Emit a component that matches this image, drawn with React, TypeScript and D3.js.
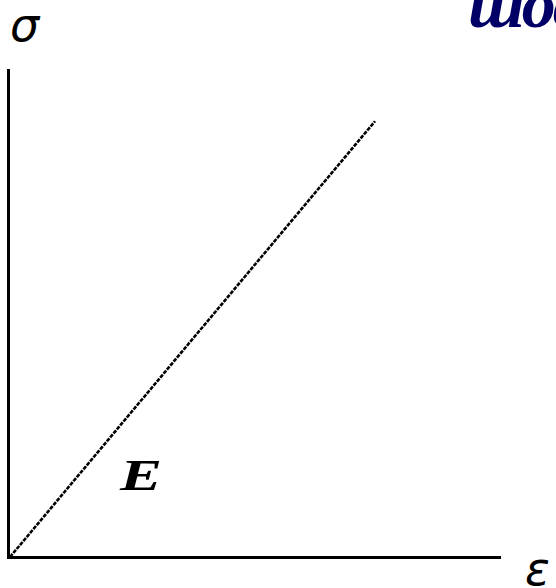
import React from "react";
import * as d3 from "d3";

// Linear elastic region: stress grows in proportion to strain (slope E)
const strain = [0, 74.5];
const stress = [0, 89.3];

const axisLabels = { y: "σ", x: "ε", slope: "E" };
const heading = "шос";

const W = 556;
const H = 588;

export default function App() {
  const x = d3.scaleLinear().domain([0, 100]).range([10, 500]);
  const y = d3.scaleLinear().domain([0, 100]).range([557, 69]);

  const pts = strain.map((s, i) => [s, stress[i]] as [number, number]);
  const path = d3
    .line<[number, number]>()
    .x((d) => x(d[0]))
    .y((d) => y(d[1]))(pts);

  return (
    <svg
      width={W}
      height={H}
      style={{ position: "absolute", left: 0, top: 0, background: "#fff" }}
    >
      {/* axes */}
      <line x1={8.5} x2={8.5} y1={y(100)} y2={559} stroke="#000" strokeWidth={3} shapeRendering="crispEdges" />
      <line x1={7} x2={x(100) + 1} y1={557.5} y2={557.5} stroke="#000" strokeWidth={3} shapeRendering="crispEdges" />

      {/* stress-strain line */}
      <path d={path ?? ""} fill="none" stroke="#000" strokeWidth={2.6} strokeDasharray="4 1.2" />

      {/* labels */}
      <text x={10} y={41} fontFamily="DejaVu Sans" fontStyle="oblique" fontSize={46} fontWeight={300} fill="#000">
        {axisLabels.y}
      </text>
      <text x={525} y={585} fontFamily="DejaVu Sans" fontStyle="oblique" fontSize={46} fill="#000">
        {axisLabels.x}
      </text>
      <text
        x={120}
        y={490}
        fontFamily="Liberation Serif"
        fontStyle="italic"
        fontWeight="bold"
        fontSize={45}
        textLength={42}
        lengthAdjust="spacingAndGlyphs"
        fill="#000"
      >
        {axisLabels.slope}
      </text>
      <text
        x={468}
        y={27}
        fontFamily="Liberation Serif"
        fontStyle="italic"
        fontWeight="bold"
        fontSize={68}
        letterSpacing={-3}
        fill="#000066"
      >
        {heading}
      </text>
    </svg>
  );
}
